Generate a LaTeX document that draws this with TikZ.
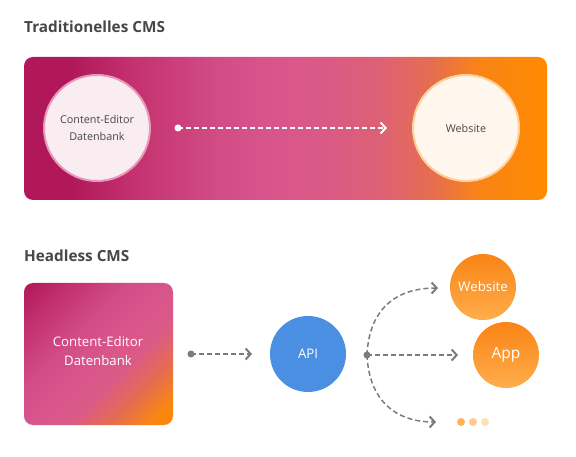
\documentclass[tikz,border=0pt]{standalone}
\usepackage{fontspec}
\setmainfont{Open Sans}
\usetikzlibrary{positioning,arrows.meta}

\definecolor{cmsInk}{HTML}{474747}
\definecolor{cmsPlum}{HTML}{B0185A}
\definecolor{cmsBerry}{HTML}{C3306E}
\definecolor{cmsRose}{HTML}{D24C86}
\definecolor{cmsPink}{HTML}{D8558C}
\definecolor{cmsBlush}{HTML}{DA5A85}
\definecolor{cmsCoral}{HTML}{DD6175}
\definecolor{cmsSalmon}{HTML}{E66D50}
\definecolor{cmsTang}{HTML}{F98415}
\definecolor{cmsOrange}{HTML}{FF8A00}
\definecolor{cmsApi}{HTML}{4A8FE2}
\definecolor{cmsGrey}{HTML}{7B7B80}

\pgfdeclarehorizontalshading{tradbar}{100bp}{color(0bp)=(cmsPlum); color(29.5bp)=(cmsPlum);
  color(35bp)=(cmsBerry); color(43.5bp)=(cmsRose); color(48.5bp)=(cmsPink); color(54bp)=(cmsBlush);
  color(59bp)=(cmsCoral); color(64bp)=(cmsSalmon); color(68.5bp)=(cmsTang); color(75bp)=(cmsOrange);
  color(100bp)=(cmsOrange)}
\pgfdeclarehorizontalshading{headbox}{100bp}{color(0bp)=(cmsPlum); color(15bp)=(cmsPlum);
  color(26bp)=(cmsBerry); color(40bp)=(cmsRose); color(50bp)=(cmsPink); color(60bp)=(cmsBlush);
  color(70bp)=(cmsSalmon); color(79bp)=(cmsTang); color(85bp)=(cmsOrange); color(100bp)=(cmsOrange)}

\tikzset{
  cms title/.style={anchor=west,inner sep=0pt,text=cmsInk,font=\fontsize{15.3}{18}\selectfont\bfseries},
  soft node/.style={circle,draw,line width=2pt,minimum size=106pt,inner sep=0pt,align=center,
    text=cmsInk,font=\fontsize{10.8}{16.5}\selectfont},
  out node/.style={circle,minimum size=66pt,inner sep=0pt,text=white,top color=cmsTang,
    bottom color=cmsOrange!70!white},
  flow dot/.style={circle,inner sep=0pt,minimum size=7pt},
  flow/.style={dash pattern=on 5pt off 3pt,-{Straight Barb[length=5pt,width=11pt,line width=2pt]}},
}

\begin{document}
\begin{tikzpicture}[x=1pt,y=-1pt]
	\useasboundingbox[fill=white] (0,0) rectangle (576,457);

	% traditionelles CMS
	\node[cms title] (tradTitle) at (24,27) {Traditionelles CMS};
	\shade[shading=tradbar,rounded corners=9pt] (24,57) rectangle (547,200);

	\node[soft node,draw=cmsPink!60!white,fill=cmsPlum!8!white] (editorA) at (97,128) {Content-Editor\\Datenbank};
	\node[soft node,draw=cmsOrange!40!white,fill=cmsOrange!7!white] (siteA) at (466,128) {Website};

	\node[flow dot,fill=white] (dotA) at (178,128) {};
	\coordinate (tipA) at (387,128);
	\draw[flow,white,line width=2pt] (dotA.center) -- (tipA);

	% headless CMS
	\node[cms title] (headTitle) at (24,256) {Headless CMS};
	\shade[shading=headbox,shading angle=-45,rounded corners=9pt] (24,283) rectangle (173,425);
	\node[align=center,text=white,font=\fontsize{13.2}{19.5}\selectfont] (editorB) at (98,351) {Content-Editor\\Datenbank};

	\node[flow dot,fill=cmsGrey] (dotB) at (191,354) {};
	\coordinate (tipB) at (252,354);
	\draw[flow,cmsGrey,line width=1.5pt] (dotB.center) -- (tipB);

	\node[circle,fill=cmsApi,minimum size=76pt,inner sep=0pt,text=white,font=\fontsize{13.2}{15}\selectfont] (api) at (308,354) {API};

	\node[flow dot,fill=cmsGrey] (dotC) at (367,355) {};
	\coordinate (tipSite) at (438,288);
	\coordinate (tipApp) at (458,355);
	\coordinate (tipMore) at (436,422);
	\draw[flow,cmsGrey,line width=1.5pt] (dotC.center) .. controls (369,310) and (395,288) .. (tipSite);
	\draw[flow,cmsGrey,line width=1.5pt] (dotC.center) -- (tipApp);
	\draw[flow,cmsGrey,line width=1.5pt] (dotC.center) .. controls (369,400) and (395,422) .. (tipMore);

	\node[out node,font=\fontsize{13.3}{15}\selectfont] (siteB) at (483,287) {Website};
	\node[out node,font=\fontsize{15.5}{18}\selectfont] (app) at (506,355) {App};

	\node[flow dot,minimum size=8pt,fill=cmsOrange!65!white] (more1) at (461,422) {};
	\node[flow dot,minimum size=8pt,fill=cmsOrange!45!white] (more2) at (473,422) {};
	\node[flow dot,minimum size=8pt,fill=cmsOrange!28!white] (more3) at (485,422) {};
\end{tikzpicture}
\end{document}
